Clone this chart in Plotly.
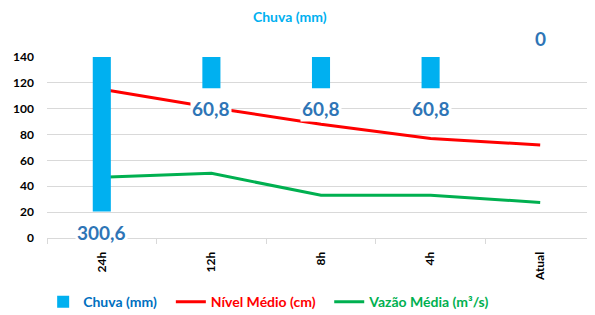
import plotly.graph_objects as go

categories = ["24h", "12h", "8h", "4h", "Atual"]
chuva = [300.6, 60.8, 60.8, 60.8, 0]
chuva_labels = ["300,6", "60,8", "60,8", "60,8", "0"]
nivel = [115, 101, 88, 77, 72]
vazao = [47, 50, 33, 33, 27.5]
y_ticks = [0, 20, 40, 60, 80, 100, 120, 140]

FONT = "Lato"

fig = go.Figure()
fig.add_trace(go.Bar(
    x=categories, y=chuva, name="Chuva (mm)", yaxis="y2", legend="legend",
    marker=dict(color="#00B0F0", line=dict(width=0)), width=0.165,
))
fig.add_trace(go.Scatter(
    x=categories, y=nivel, name="Nível Médio (cm)", mode="lines", legend="legend2",
    line=dict(color="#FF0000", width=3),
))
fig.add_trace(go.Scatter(
    x=categories, y=vazao, name="Vazão Média (m³/s)", mode="lines", legend="legend3",
    line=dict(color="#00B050", width=3),
))

for c, v, t in zip(categories, chuva, chuva_labels):
    fig.add_annotation(
        x=c, y=v, xref="x", yref="y2", text=t, showarrow=False,
        yanchor="bottom" if v == 0 else "top",
        yshift=5 if v == 0 else -7,
        bgcolor="white", borderpad=1,
        font=dict(family=FONT, size=19, color="#2E75B6", weight="bold"),
    )

def leg(x, color):
    return dict(
        orientation="h", x=x, xanchor="left", y=-0.354, yanchor="middle",
        font=dict(family=FONT, size=14, color=color, weight="bold"), itemwidth=30,
        bgcolor="rgba(0,0,0,0)",
    )

# the page body has an 8px margin, so the figure is sized to fit the window
fig.update_layout(
    width=587, height=307,
    margin=dict(l=39, r=0, t=49, b=77, autoexpand=False),
    paper_bgcolor="white", plot_bgcolor="white",
    title=dict(text="Chuva (mm)", x=0.48, xanchor="center", y=0.97, yanchor="middle",
               xref="container", yref="container",
               font=dict(family=FONT, size=14, color="#00B0F0", weight="bold")),
    font=dict(family=FONT, size=12, color="#000000"),
    xaxis=dict(
        type="category", showgrid=False, showline=True, linecolor="#D9D9D9", linewidth=1,
        ticks="outside", tickson="boundaries", tickcolor="#D9D9D9", ticklen=5,
        tickangle=-90, ticklabelstandoff=8, automargin=False,
        tickfont=dict(family=FONT, size=12, color="#000", weight="bold"),
    ),
    yaxis=dict(
        range=[0, 140], tickvals=y_ticks, showgrid=True, gridcolor="#D9D9D9", gridwidth=1,
        zeroline=False, showline=False, automargin=False,
        tickfont=dict(family=FONT, size=12, color="#000", weight="bold"),
        ticklabelstandoff=12,
    ),
    yaxis2=dict(range=[352, 0], overlaying="y", visible=False, showgrid=False),
    legend=leg(-0.007, "#0070C0"),
    legend2=leg(0.226, "#FF0000"),
    legend3=leg(0.515, "#00B050"),
    showlegend=True,
)

fig.write_html("out.html")
